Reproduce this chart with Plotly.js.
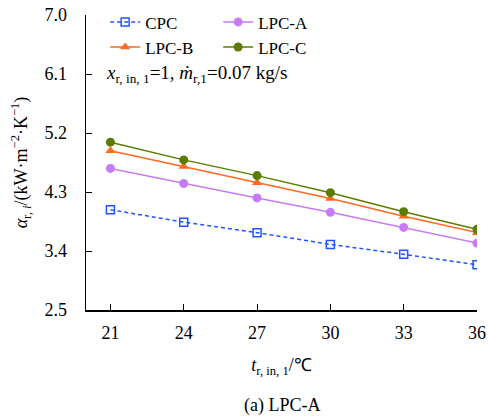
<!DOCTYPE html>
<html>
<head>
<meta charset="utf-8">
<script src="https://cdn.plot.ly/plotly-3.0.1.min.js"></script>
<style>html,body{margin:0;padding:0;background:#fff;}#chart{width:488px;height:418px;}</style>
</head>
<body>
<div id="chart"></div>
<script>
var temps = [21, 24, 27, 30, 33, 36];
var cpc  = [4.03, 3.84, 3.68, 3.50, 3.35, 3.19];
var lpcA = [4.66, 4.43, 4.21, 3.99, 3.76, 3.52];
var lpcB = [4.93, 4.69, 4.44, 4.20, 3.93, 3.68];
var lpcC = [5.06, 4.79, 4.55, 4.29, 4.00, 3.73];
var yTicks = [2.5, 3.4, 4.3, 5.2, 6.1, 7.0];

var F = '"Liberation Serif", "Times New Roman", Times, serif';

var traces = [
  {x: temps, y: cpc, name: 'CPC', mode: 'lines+markers', legend: 'legend', legendgroup: 'g1',
   line: {color: '#2255ff', width: 1.5, dash: '4px,3px'},
   marker: {symbol: 'square-open', size: 8, color: '#2255ff', line: {width: 1.5}}},
  {x: temps, y: lpcA, name: 'LPC-A', mode: 'lines+markers', legend: 'legend2', legendgroup: 'g2',
   line: {color: '#c77cf5', width: 1.5},
   marker: {symbol: 'circle', size: 9, color: '#c77cf5'}},
  {x: temps, y: lpcB, name: 'LPC-B', mode: 'lines+markers', legend: 'legend', legendgroup: 'g3',
   line: {color: '#ff6a1f', width: 1.5},
   marker: {symbol: 'triangle-up', size: 9, color: '#ff6a1f'}},
  {x: temps, y: lpcC, name: 'LPC-C', mode: 'lines+markers', legend: 'legend2', legendgroup: 'g4',
   line: {color: '#5b7c00', width: 1.5},
   marker: {symbol: 'circle', size: 9, color: '#5b7c00'}}
];

var legendBase = {
  bgcolor: 'rgba(0,0,0,0)', font: {family: F, size: 17, color: '#000'},
  yanchor: 'top', xanchor: 'left', y: 1.036, traceorder: 'grouped', tracegroupgap: 0, itemwidth: 30
};

var layout = {
  width: 488, height: 418,
  margin: {l: 86, r: 11, t: 15, b: 108, autoexpand: false},
  paper_bgcolor: '#fff', plot_bgcolor: '#fff',
  font: {family: F, size: 17, color: '#000'},
  xaxis: {
    range: [20, 36], tickmode: 'array', tickvals: temps, ticktext: temps.map(String),
    showline: true, linecolor: '#000', linewidth: 1.5, ticks: 'inside', ticklen: 6, tickcolor: '#000',
    showgrid: false, zeroline: false, tickfont: {family: F, size: 18}, ticklabelstandoff: 6,
    title: {text: '<i>t</i><sub>r, in, 1</sub>/℃', font: {family: F, size: 18}, standoff: 16}
  },
  yaxis: {
    range: [2.5, 7.0], tickmode: 'array', tickvals: yTicks, ticktext: yTicks.map(function(v){return v.toFixed(1);}),
    showline: true, linecolor: '#000', linewidth: 1.5, ticks: 'inside', ticklen: 6, tickcolor: '#000',
    showgrid: false, zeroline: false, tickfont: {family: F, size: 18}, ticklabelstandoff: 14,
    title: {text: '<i>α</i><sub>r, <i>i</i></sub>/(kW·m<sup>−2</sup>·K<sup>−1</sup>)', font: {family: F, size: 18}, standoff: 12}
  },
  legend: Object.assign({}, legendBase, {x: 0.049}),
  legend2: Object.assign({}, legendBase, {x: 0.338}),
  annotations: [
    {xref: 'paper', yref: 'paper', x: 0.045, y: 0.80, xanchor: 'left', yanchor: 'middle', showarrow: false,
     text: '<i>x</i><sub>r, in, 1</sub>=1, <i>ṁ</i><sub>r,1</sub>=0.07 kg/s', font: {family: F, size: 19}},
    {xref: 'paper', yref: 'paper', x: 0.5, y: -0.325, xanchor: 'center', yanchor: 'middle', showarrow: false,
     text: '(a) LPC-A', font: {family: F, size: 18}}
  ]
};

Plotly.newPlot('chart', traces, layout, {displayModeBar: false, staticPlot: true});
</script>
</body>
</html>
